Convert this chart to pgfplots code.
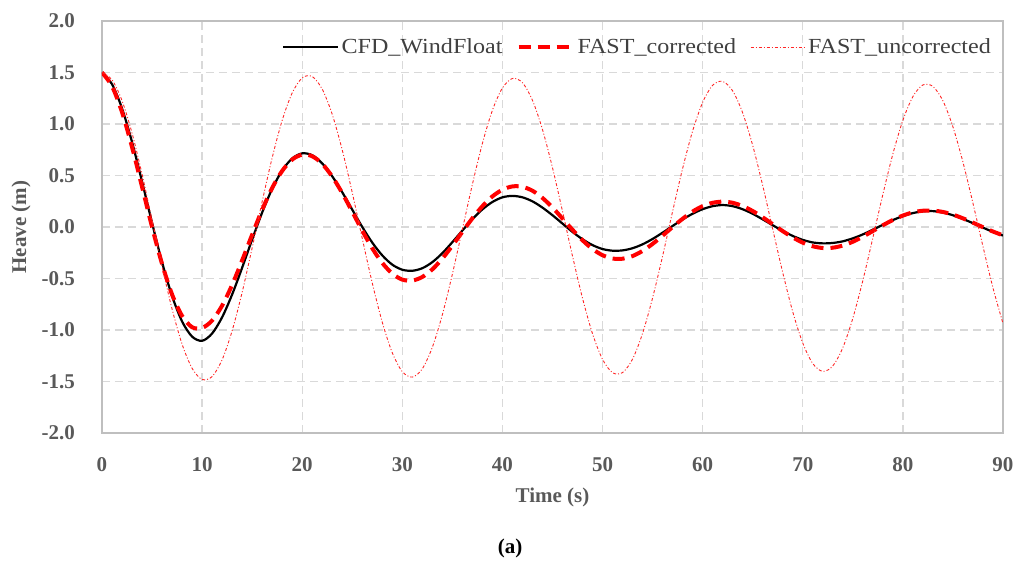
\documentclass[border=0pt]{standalone}
\usepackage{fontspec}
\setmainfont{Liberation Serif}
\newfontfamily\legfont[FakeStretch=1.12]{Liberation Serif}
\usepackage{pgfplots}
\usepackage{pgfplotstable}
\pgfplotsset{compat=1.18}
\definecolor{axisgray}{HTML}{BFBFBF}
\definecolor{gridgray}{HTML}{D9D9D9}
\definecolor{labelgray}{HTML}{595959}
\definecolor{legtext}{HTML}{404040}

% Heave free-decay: CFD, corrected FAST and uncorrected FAST (m)
\pgfplotstableread{
t cfd corr unc
0 1.500 1.500 1.500
1 1.387 1.367 1.430
2 1.152 1.115 1.227
3 0.825 0.776 0.912
4 0.441 0.391 0.514
5 0.040 0.000 0.068
6 -0.342 -0.359 -0.383
7 -0.670 -0.655 -0.797
8 -0.917 -0.863 -1.138
9 -1.064 -0.973 -1.372
10 -1.105 -0.980 -1.480
11 -1.034 -0.908 -1.452
12 -0.876 -0.763 -1.289
13 -0.655 -0.562 -1.007
14 -0.395 -0.324 -0.634
15 -0.121 -0.074 -0.202
16 0.141 0.167 0.247
17 0.371 0.379 0.673
18 0.549 0.545 1.036
19 0.666 0.655 1.302
20 0.715 0.702 1.448
21 0.697 0.687 1.461
22 0.617 0.613 1.338
23 0.492 0.489 1.093
24 0.337 0.329 0.747
25 0.168 0.148 0.333
26 0.000 -0.036 -0.112
27 -0.152 -0.207 -0.545
28 -0.276 -0.349 -0.926
29 -0.366 -0.453 -1.222
30 -0.415 -0.511 -1.405
31 -0.425 -0.520 -1.457
32 -0.400 -0.485 -1.376
33 -0.341 -0.411 -1.167
34 -0.254 -0.306 -0.851
35 -0.147 -0.181 -0.457
36 -0.034 -0.047 -0.022
37 0.076 0.085 0.414
38 0.171 0.202 0.812
39 0.243 0.297 1.134
40 0.288 0.362 1.350
41 0.302 0.394 1.442
42 0.288 0.390 1.401
43 0.249 0.352 1.230
44 0.188 0.282 0.946
45 0.114 0.189 0.576
46 0.033 0.082 0.153
47 -0.048 -0.027 -0.283
48 -0.119 -0.129 -0.692
49 -0.176 -0.214 -1.037
50 -0.214 -0.274 -1.285
51 -0.230 -0.306 -1.415
52 -0.227 -0.308 -1.413
53 -0.206 -0.282 -1.282
54 -0.168 -0.232 -1.032
55 -0.116 -0.164 -0.688
56 -0.055 -0.084 -0.281
57 0.010 0.000 0.152
58 0.073 0.080 0.569
59 0.129 0.150 0.933
60 0.173 0.203 1.210
61 0.202 0.235 1.376
62 0.213 0.246 1.414
63 0.202 0.235 1.321
64 0.172 0.203 1.107
65 0.128 0.155 0.791
66 0.074 0.094 0.403
67 0.017 0.027 -0.022
68 -0.038 -0.040 -0.443
69 -0.087 -0.101 -0.824
70 -0.125 -0.152 -1.127
71 -0.150 -0.187 -1.326
72 -0.159 -0.204 -1.402
73 -0.155 -0.201 -1.349
74 -0.139 -0.180 -1.172
75 -0.110 -0.143 -0.886
76 -0.072 -0.094 -0.520
77 -0.026 -0.039 -0.106
78 0.021 0.017 0.316
79 0.067 0.068 0.709
80 0.106 0.111 1.036
81 0.135 0.142 1.266
82 0.152 0.158 1.379
83 0.154 0.159 1.365
84 0.140 0.146 1.225
85 0.114 0.120 0.972
86 0.078 0.084 0.630
87 0.037 0.042 0.231
88 -0.006 -0.002 -0.189
89 -0.048 -0.044 -0.591
90 -0.083 -0.081 -0.937
}\heavedata

\begin{document}
\begin{tikzpicture}
\path[use as bounding box] (-102pt,-136pt) rectangle (911pt,433pt);
\begin{axis}[
  at={(0pt,0pt)}, anchor=south west,
  scale only axis, width=901pt, height=412pt,
  xmin=0, xmax=90, ymin=-2, ymax=2,
  xtick={0,10,20,30,40,50,60,70,80,90},
  xticklabels={0,10,20,30,40,50,60,70,80,90},
  ytick={-2,-1.5,-1,-0.5,0,0.5,1,1.5,2},
  yticklabels={-2.0,-1.5,-1.0,-0.5,0.0,0.5,1.0,1.5,2.0},
  major tick length=0pt,
  axis line style={draw=axisgray, line width=1.5pt},
  grid=major,
  major grid style={draw=gridgray, line width=1.4pt, dash pattern=on 8pt off 5pt},
  tick label style={font=\fontsize{21}{21}\selectfont\bfseries, text=labelgray},
  yticklabel style={inner sep=0pt, anchor=east, xshift=-27pt},
  xticklabel style={inner sep=0pt, anchor=north, yshift=-24pt},
  xlabel={Time (s)}, ylabel={Heave (m)},
  every axis x label/.style={at={(axis description cs:0.5,-0.1553)}, anchor=center,
    font=\fontsize{21}{21}\selectfont\bfseries, text=labelgray},
  every axis y label/.style={at={(axis description cs:-0.0899,0.5)}, anchor=center, rotate=90,
    font=\fontsize{21}{21}\selectfont\bfseries, text=labelgray},
  legend columns=3,
  legend style={draw=none, fill=none, inner sep=0pt, anchor=east,
    at={(axis description cs:0.989,0.937)},
    font=\fontsize{21.5}{21.5}\selectfont\legfont, text=legtext,
    /tikz/every even column/.append style={column sep=12pt}},
  legend image code/.code={\draw[#1] (0pt,0pt) -- (55pt,0pt);},
]
\addplot[black, line width=2.2pt, smooth] table[x=t, y=cfd] {\heavedata};
\addlegendentry{CFD\_WindFloat}
\addplot[red, line width=4pt, smooth, dash pattern=on 12pt off 7pt] table[x=t, y=corr] {\heavedata};
\addlegendentry{FAST\_corrected}
\addplot[red!85, line width=0.9pt, smooth, dash pattern=on 3pt off 2pt on 1pt off 2pt] table[x=t, y=unc] {\heavedata};
\addlegendentry{FAST\_uncorrected}
\end{axis}
\node[font=\fontsize{21}{21}\selectfont\bfseries] at (408pt,-115pt) {(a)};
\end{tikzpicture}
\end{document}
